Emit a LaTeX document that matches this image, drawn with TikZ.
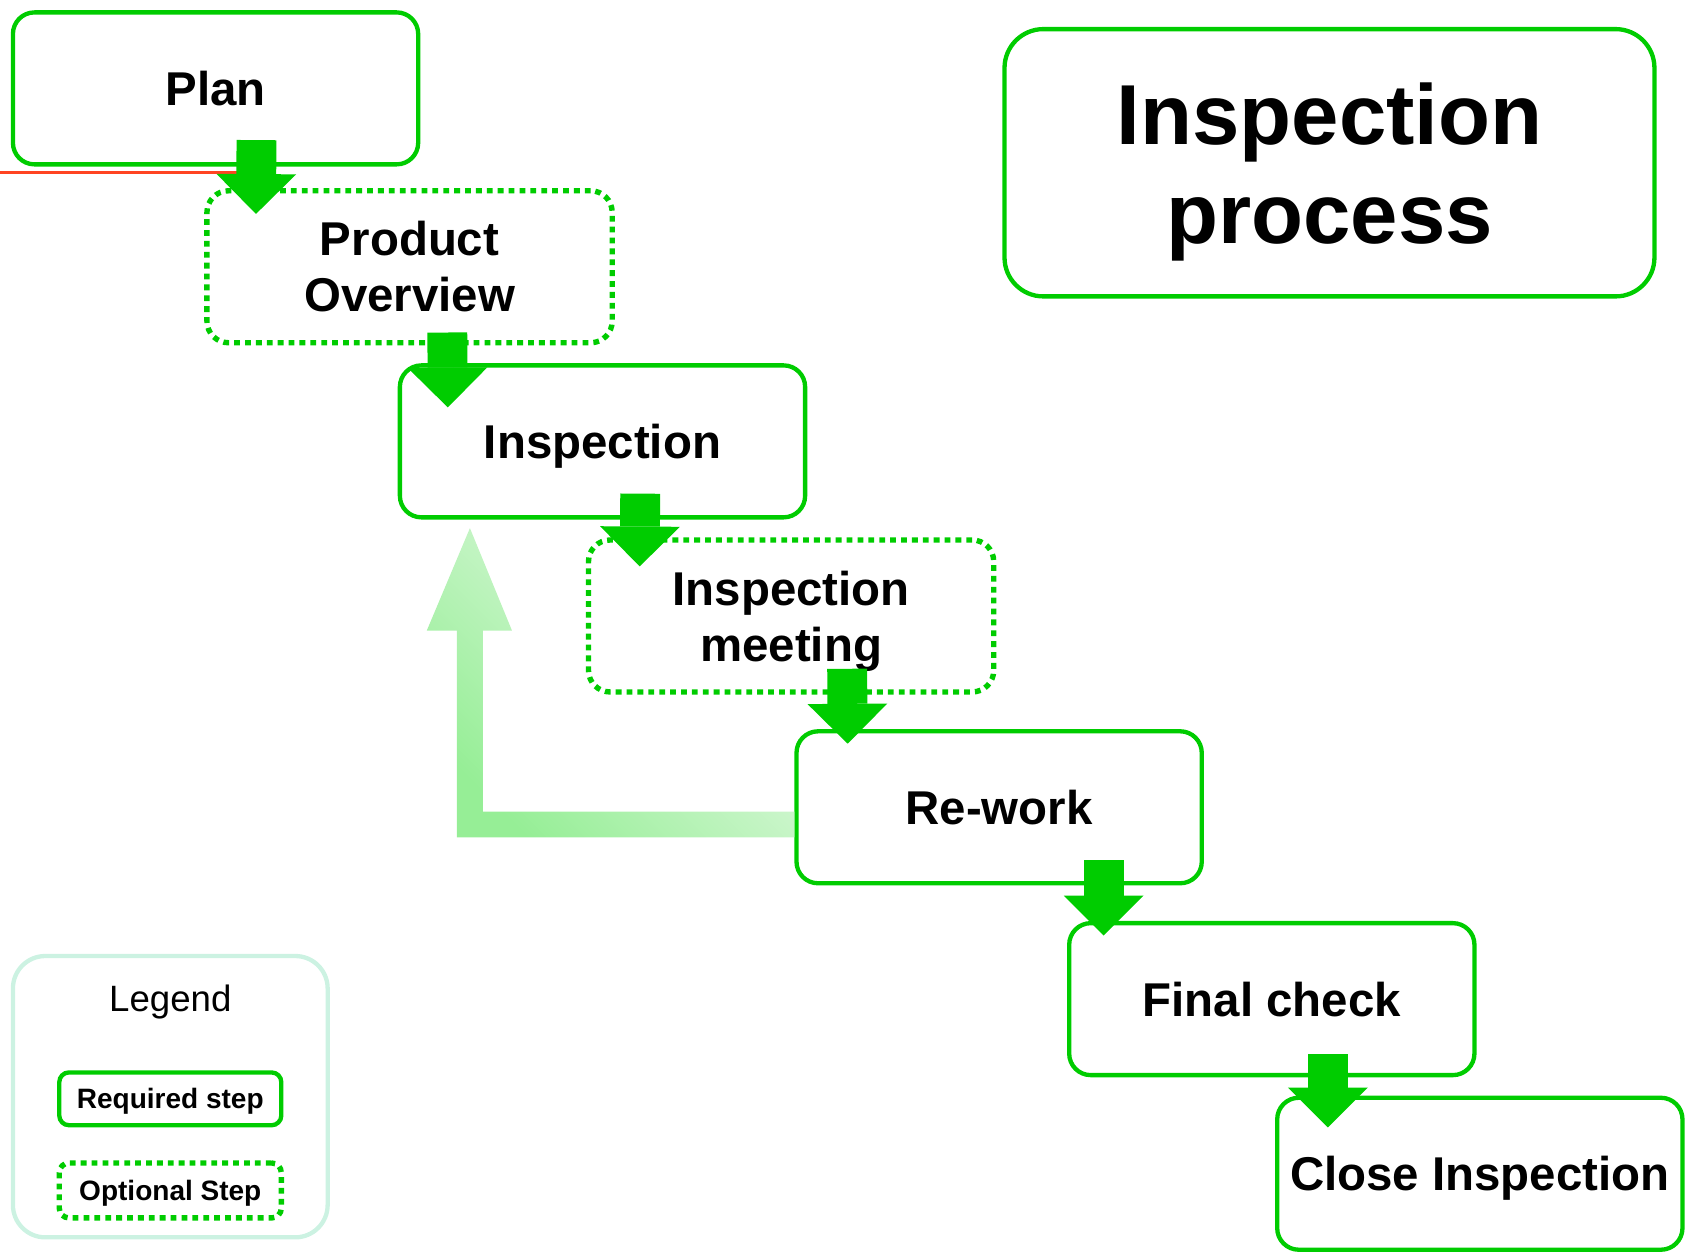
\documentclass[tikz,border=0pt]{standalone}
\usepackage{fontspec}
\setmainfont{Liberation Sans}
\usetikzlibrary{arrows.meta,calc}
\definecolor{stepgreen}{HTML}{00CC00}
\definecolor{legendmint}{HTML}{CCF2E2}
\definecolor{fbdark}{RGB}{150,238,150}
\definecolor{fblight}{RGB}{236,250,236}
\definecolor{redline}{HTML}{FF4422}
\begin{document}
\begin{tikzpicture}[x=1pt,y=-1pt,
  stepbox/.style={draw=stepgreen, line width=4pt, rounded corners=20pt,
    minimum width=376pt, minimum height=141pt, inner sep=0pt, align=center,
    font=\fontsize{44}{52}\selectfont\bfseries, text depth=0pt},
  dotline/.style={line width=5pt, dash pattern=on 5.4pt off 4.7pt},
  optbox/.style={stepbox, dotline},
  flow/.style={draw=stepgreen, line width=37pt,
    -{Triangle[length=37pt,width=74pt,line width=0pt]}},
  fbshade/.style={bottom color=fbdark, top color=fblight, shading angle=-45},
]
\useasboundingbox (0,0) rectangle (1568,1161.6);

% red line
\coordinate (redstart) at (0,160);
\coordinate (redend) at (240,160);
\draw[redline, line width=2.5pt] (redstart) -- (redend);

% title
\node[draw=stepgreen, line width=4pt, rounded corners=36pt, minimum width=603pt,
  minimum height=248pt, align=center, inner sep=0pt,
  font=\fontsize{79}{92}\selectfont\bfseries, text depth=0pt]
  (title) at (1233.5,151) {Inspection\\process};

% steps
\node[stepbox] (plan) at (200,82) {Plan};
\node[optbox] (po) at (380,247.5) {Product\\Overview};
\node[stepbox] (insp) at (559,409.5) {Inspection};
\node[optbox] (meet) at (734,571.5) {Inspection\\meeting};
\node[stepbox] (rework) at (927,749) {Re-work};
\node[stepbox] (final) at (1180,927) {Final check};
\node[stepbox] (close) at (1373,1089) {Close Inspection};

% feedback arrow
\coordinate (fbstart) at ([yshift=-16pt]rework.west);
\coordinate (fbtip) at ([shift={(67,8)}]insp.south west);
\path[fbshade] ([yshift=12pt]fbstart) -| ($(fbtip)+(12,95)$) -- ++(27,0)
  -- (fbtip) -- ++(-40,95) -- ++(28,0) |- ([yshift=-12pt]fbstart) -- cycle;

% flow arrows
\draw[flow] ([shift={(228,-24.5)}]plan.south west) -- ([shift={(48,24)}]po.north west);
\draw[flow] ([shift={(225.5,-12)}]po.south west) -- ([shift={(46.5,41)}]insp.north west);
\draw[flow] ([shift={(225,-24)}]insp.south west) -- ([shift={(50,27)}]meet.north west);
\draw[flow] ([shift={(242.5,-24)}]meet.south west) -- ([shift={(49.5,13.5)}]rework.north west);
\draw[flow] ([shift={(287,-23.5)}]rework.south west) -- ([shift={(34,13.5)}]final.north west);
\draw[flow] ([shift={(242,-21.5)}]final.south west) -- ([shift={(49,29.5)}]close.north west);

% legend
\node[draw=legendmint, line width=4pt, rounded corners=30pt, minimum width=292pt,
  minimum height=261pt, inner sep=0pt] (legend) at (158,1017.5) {};
\node[font=\fontsize{34}{40}\selectfont, text depth=0pt, inner sep=0pt]
  (legtitle) at (158,926) {Legend};
\node[draw=stepgreen, line width=4pt, rounded corners=9pt, minimum width=206pt,
  minimum height=49pt, inner sep=0pt, font=\fontsize{26}{30}\selectfont\bfseries,
  text depth=0pt] (req) at (158,1019.5) {Required step};
\node[draw=stepgreen, dotline, rounded corners=9pt, minimum width=206pt,
  minimum height=51pt, inner sep=0pt,
  font=\fontsize{26}{30}\selectfont\bfseries, text depth=0pt]
  (opt) at (158,1104.5) {Optional Step};
\end{tikzpicture}
\end{document}
